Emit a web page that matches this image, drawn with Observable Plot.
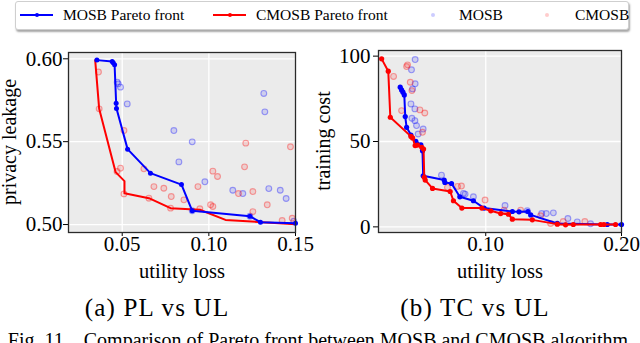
<!DOCTYPE html>
<html>
<head>
<meta charset="utf-8">
<script src="https://cdn.jsdelivr.net/npm/d3@7"></script>
<script src="https://cdn.jsdelivr.net/npm/@observablehq/plot@0.6"></script>
<style>
  html, body { margin: 0; padding: 0; background: #fff; }
  body { width: 640px; height: 343px; overflow: hidden; font-family: "Liberation Serif", "DejaVu Serif", serif; color: #000; }
  #wrap { position: relative; width: 640px; height: 343px; }
  .abs { position: absolute; }
  .lbl { position: absolute; white-space: nowrap; line-height: 1; transform: translate(-50%, -50%); }
  .vlbl { position: absolute; white-space: nowrap; line-height: 0.8; transform: translate(-50%, -50%) rotate(-90deg); }
  #legend { position: absolute; left: 15px; top: 1px; width: 612px; height: 27px; border: 1px solid #cfcfcf; border-radius: 3px; box-shadow: 1px 2px 2px rgba(0,0,0,0.35); background: #fff; }
  .ltext { position: absolute; font-size: 15.5px; line-height: 1; white-space: nowrap; transform: translateY(-50%); }
  .lline { position: absolute; height: 2px; transform: translateY(-50%); }
  .ldot { position: absolute; border-radius: 50%; transform: translate(-50%, -50%); }
  svg { overflow: visible; }
</style>
</head>
<body>
<div id="wrap">
  <div id="left" class="abs" style="left:0px;top:0px;"></div>
  <div id="right" class="abs" style="left:310px;top:0px;"></div>
  <div id="legend"></div>
  <div class="vlbl" style="left:9px;top:142px;font-size:20px;">privacy leakage</div>
  <div class="vlbl" style="left:323px;top:141px;font-size:20px;">training cost</div>
  <div class="lbl" style="left:182px;top:271px;font-size:20.5px;">utility loss</div>
  <div class="lbl" style="left:500px;top:271px;font-size:20.5px;">utility loss</div>
  <div class="lbl" style="left:157px;top:307px;font-size:25px;letter-spacing:1.2px;">(a) PL vs UL</div>
  <div class="lbl" style="left:475px;top:307px;font-size:25px;letter-spacing:1.2px;">(b) TC vs UL</div>
  <div class="lbl" style="left:318px;top:340px;font-size:20px;">Fig. 11.&nbsp;&nbsp;&nbsp;Comparison of Pareto front between MOSB and CMOSB algorithm</div>
</div>
<script>
// ---------- Data: (a) privacy leakage vs utility loss ----------
const plMosbFrontUL = [0.0354,0.0442,0.0448,0.0456,0.0465,0.0467,0.0531,0.0663,0.0842,0.0904,0.1237,0.1298,0.1500];
const plMosbFrontPL = [0.5992,0.5984,0.5976,0.5964,0.5732,0.5700,0.5455,0.5310,0.5241,0.5083,0.5050,0.5014,0.5008];
const plCmosbFrontUL = [0.0344,0.0367,0.0462,0.0513,0.0513,0.0654,0.0779,0.0948,0.1096,0.1500];
const plCmosbFrontPL = [0.5992,0.5698,0.5316,0.5262,0.5189,0.5159,0.5099,0.5089,0.5028,0.5002];
const plMosbUL = [0.0471,0.0477,0.0490,0.0529,0.0798,0.0904,0.0827,0.0977,0.1138,0.1196,0.1317,0.1323,0.1346,0.1412,0.1446,0.1490,0.0904,0.1237];
const plMosbPL = [0.5859,0.5849,0.5829,0.5728,0.5567,0.5499,0.5378,0.5258,0.5207,0.5187,0.5791,0.5680,0.5217,0.5207,0.5157,0.5020,0.5083,0.5050];
const plCmosbUL = [0.0363,0.0367,0.0510,0.0490,0.0625,0.0683,0.0740,0.0783,0.0856,0.0937,0.0948,0.1023,0.1050,0.1010,0.1023,0.1213,0.1206,0.1171,0.1254,0.1254,0.1337,0.1471,0.1481,0.1423,0.0510,0.0470,0.0654,0.0779];
const plCmosbPL = [0.5920,0.5698,0.5567,0.5340,0.5336,0.5229,0.5219,0.5169,0.5149,0.5229,0.5095,0.5322,0.5290,0.5119,0.5109,0.5491,0.5348,0.5187,0.5199,0.5078,0.5119,0.5469,0.5038,0.5024,0.5185,0.5320,0.5159,0.5099];
const plXTicks = [0.05, 0.10, 0.15];
const plYTicks = [0.50, 0.55, 0.60];

// ---------- Data: (b) training cost vs utility loss ----------
const tcMosbFrontUL = [0.0370,0.0380,0.0390,0.0400,0.0407,0.0417,0.0449,0.0485,0.0522,0.0534,0.0539,0.0694,0.0699,0.0748,0.0809,0.0909,0.0988,0.1196,0.1245,0.1311,0.1331,0.1527,0.1895,0.2000];
const tcMosbFrontTC = [81.8,80.2,78.9,77.3,64.6,58.3,53.8,50.1,48.1,44.6,29.9,27.4,26.0,25.4,17.6,15.3,11.0,9.0,8.8,9.0,7.0,2.0,1.4,1.4];
const tcCmosbFrontUL = [0.0233,0.0282,0.0297,0.0449,0.0461,0.0480,0.0498,0.0529,0.0542,0.0547,0.0554,0.0608,0.0738,0.0762,0.0824,0.0971,0.1037,0.1110,0.1167,0.1196,0.1343,0.1527,0.1588,0.1645,0.1846,0.1870,0.1956];
const tcCmosbFrontTC = [98.4,91.2,64.2,53.0,52.1,47.6,47.9,46.6,45.6,29.0,27.4,22.5,20.7,15.3,11.0,11.0,9.4,7.8,7.4,4.5,4.1,1.6,1.2,1.4,1.4,1.4,1.4];
const tcMosbUL = [0.0480,0.0453,0.0480,0.0461,0.0449,0.0478,0.0456,0.0478,0.0490,0.0539,0.0502,0.0674,0.0836,0.0848,0.0909,0.1142,0.1306,0.1412,0.1446,0.1498,0.1605,0.1674,0.1772];
const tcMosbTC = [98.0,92.0,83.8,80.8,72.0,69.1,63.6,62.2,59.3,57.3,54.4,30.3,19.6,19.2,17.6,12.5,9.4,7.8,7.8,8.2,4.9,2.9,1.8];
const tcCmosbUL = [0.0417,0.0424,0.0321,0.0444,0.0456,0.0380,0.0515,0.0551,0.0534,0.0718,0.0792,0.0821,0.0995,0.1135,0.1257,0.1478,0.1571,0.1730,0.1404];
const tcCmosbTC = [93.9,94.9,88.1,84.7,79.8,68.1,68.5,66.7,55.4,23.1,23.7,23.9,15.7,9.8,9.8,2.0,3.1,3.1,6.5];
const tcXTicks = [0.10, 0.20];
const tcYTicks = [0, 50, 100];

// ---------- Legend ----------
const legendLabels = ["MOSB Pareto front", "CMOSB Pareto front", "MOSB", "CMOSB"];
const legendColors = ["#0000ff", "#ff0000", "#0000ff", "#ff0000"];

const zip = (xs, ys) => xs.map((x, i) => ({x, y: ys[i]}));
const BLUE = "#0000ff", RED = "#ff0000";

function scatter(data, color) {
  return Plot.dot(data, {x: "x", y: "y", r: 2.9, stroke: color, strokeOpacity: 0.35, strokeWidth: 1.1, fill: color, fillOpacity: 0.12});
}

function panel(o) {
  return Plot.plot({
    width: o.width, height: 240,
    marginTop: o.mt, marginBottom: o.mb, marginLeft: o.ml, marginRight: o.mr,
    style: {fontFamily: "Liberation Serif", fontSize: "21px", color: "#000", background: "transparent", overflow: "visible"},
    x: {domain: o.xd, ticks: o.xt, tickFormat: d3.format(".2f"), tickSize: 4, tickPadding: 0, label: null},
    y: {domain: o.yd, ticks: o.yt, tickFormat: o.yf, tickSize: 5, tickPadding: o.ytp, label: null},
    marks: [
      Plot.frame({fill: "#ebebeb"}),
      Plot.ruleX(o.xt, {stroke: "#fff", strokeWidth: 1.3}),
      Plot.ruleY(o.yt, {stroke: "#fff", strokeWidth: 1.3}),
      ...o.marks,
      Plot.frame({stroke: "#2a2a2a", strokeWidth: 1.3})
    ]
  });
}

const plMB = zip(plMosbFrontUL, plMosbFrontPL);
const plCB = zip(plCmosbFrontUL, plCmosbFrontPL);
const left = panel({
  width: 310, mt: 52, mb: 8, ml: 68, mr: 15,
  xd: [0.019, 0.15], yd: [0.4952, 0.6038], xt: plXTicks, yt: plYTicks, yf: d3.format(".2f"), ytp: 1,
  marks: [
    scatter(zip(plMosbUL, plMosbPL), BLUE),
    scatter(zip(plCmosbUL, plCmosbPL), RED),
    Plot.line(plCB, {x: "x", y: "y", stroke: RED, strokeWidth: 2}),
    Plot.line(plMB, {x: "x", y: "y", stroke: BLUE, strokeWidth: 2}),
    Plot.dot(plMB, {x: "x", y: "y", r: 2.5, fill: BLUE})
  ]
});
document.getElementById("left").appendChild(left);

const tcMB = zip(tcMosbFrontUL, tcMosbFrontTC);
const tcCB = zip(tcCmosbFrontUL, tcCmosbFrontTC);
const right = panel({
  width: 330, mt: 50, mb: 8, ml: 68, mr: 19,
  xd: [0.021, 0.20], yd: [-3.3, 103.3], xt: tcXTicks, yt: tcYTicks, yf: d3.format("d"), ytp: 3,
  marks: [
    scatter(zip(tcMosbUL, tcMosbTC), BLUE),
    scatter(zip(tcCmosbUL, tcCmosbTC), RED),
    Plot.line(tcMB, {x: "x", y: "y", stroke: BLUE, strokeWidth: 2}),
    Plot.dot(tcMB, {x: "x", y: "y", r: 2.6, fill: BLUE}),
    Plot.line(tcCB, {x: "x", y: "y", stroke: RED, strokeWidth: 2}),
    Plot.dot(tcCB, {x: "x", y: "y", r: 2.6, fill: RED})
  ]
});
document.getElementById("right").appendChild(right);

// legend built from arrays (positions relative to legend box)
const lg = document.getElementById("legend");
const cy = 13;
const items = [
  {type: "line", x0: 4, x1: 37, tx: 47},
  {type: "line", x0: 197, x1: 230, tx: 240},
  {type: "dot", cx: 417, tx: 443},
  {type: "dot", cx: 531, tx: 559}
];
items.forEach((it, i) => {
  const c = legendColors[i];
  if (it.type === "line") {
    const l = document.createElement("div");
    l.className = "lline";
    l.style.cssText = `left:${it.x0}px;top:${cy}px;width:${it.x1 - it.x0}px;background:${c};`;
    lg.appendChild(l);
    const d = document.createElement("div");
    d.className = "ldot";
    d.style.cssText = `left:${(it.x0 + it.x1) / 2}px;top:${cy}px;width:4px;height:4px;background:${c};`;
    lg.appendChild(d);
  } else {
    const d = document.createElement("div");
    d.className = "ldot";
    d.style.cssText = `left:${it.cx}px;top:${cy}px;width:4px;height:4px;background:${c};opacity:0.2;`;
    lg.appendChild(d);
  }
  const t = document.createElement("div");
  t.className = "ltext";
  t.style.cssText = `left:${it.tx}px;top:${cy}px;`;
  t.textContent = legendLabels[i];
  lg.appendChild(t);
});
</script>
</body>
</html>
